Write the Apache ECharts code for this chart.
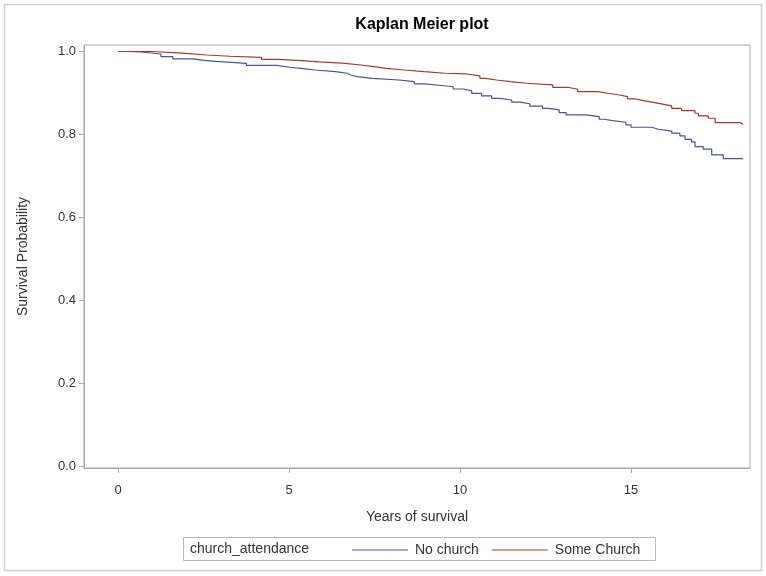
<!DOCTYPE html>
<html>
<head>
<meta charset="utf-8">
<script src="https://cdn.jsdelivr.net/npm/echarts@6/dist/echarts.min.js"></script>
<style>
html,body{margin:0;padding:0;background:#fff;}
#chart{width:766px;height:576px;}
</style>
</head>
<body>
<div id="chart"></div>
<script>
// Years of survival (start of each step) and survival probability from then on
var noChurchTimes = [0, 0.30, 0.66, 1.25, 1.60, 2.19, 2.53, 2.85, 3.31, 3.75, 4.63, 5.02, 5.41, 5.75, 6.36, 6.70, 6.80, 6.99, 7.43, 8.21, 8.66, 8.95, 9.46, 9.80, 10.10, 10.34, 10.63, 10.92, 11.17, 11.51, 11.75, 12.04, 12.41, 12.61, 12.90, 13.10, 13.68, 14.07, 14.22, 14.46, 14.85, 15.00, 15.60, 15.80, 16.19, 16.43, 16.58, 16.77, 16.87, 17.11, 17.36, 17.70, 18.28];
var noChurchSurv  = [1.0, 0.9988, 0.994, 0.9875, 0.982, 0.9788, 0.976, 0.974, 0.9716, 0.9667, 0.962, 0.9586, 0.9554, 0.9514, 0.9475, 0.9434, 0.9393, 0.9354, 0.9313, 0.9272, 0.9217, 0.918, 0.915, 0.9096, 0.905, 0.899, 0.8928, 0.887, 0.883, 0.8778, 0.874, 0.868, 0.863, 0.859, 0.8525, 0.847, 0.843, 0.8366, 0.8333, 0.8294, 0.823, 0.8173, 0.8125, 0.808, 0.803, 0.7964, 0.788, 0.782, 0.7706, 0.7643, 0.7506, 0.7417, 0.7417];

var someChurchTimes = [0, 1.00, 1.87, 2.60, 3.26, 4.19, 4.68, 5.37, 5.86, 6.56, 7.10, 7.54, 7.83, 8.37, 8.95, 9.56, 10.19, 10.58, 10.73, 11.07, 11.46, 11.95, 12.71, 13.15, 13.44, 14.03, 14.32, 14.66, 14.90, 15.15, 15.36, 15.65, 15.89, 16.19, 16.48, 16.87, 16.97, 17.26, 17.46, 18.19, 18.28];
var someChurchSurv  = [1.0, 0.996, 0.9916, 0.9885, 0.986, 0.981, 0.978, 0.975, 0.972, 0.9675, 0.9627, 0.9595, 0.9554, 0.9514, 0.9475, 0.9458, 0.941, 0.9354, 0.9313, 0.9272, 0.9234, 0.9193, 0.9137, 0.9089, 0.9031, 0.8993, 0.895, 0.891, 0.8855, 0.8815, 0.8773, 0.8735, 0.8687, 0.863, 0.8573, 0.851, 0.8446, 0.839, 0.8284, 0.824, 0.824];

var groupNames = ['No church', 'Some Church'];
var xTicks = [0, 5, 10, 15];
var yTicks = [0, 0.2, 0.4, 0.6, 0.8, 1.0];

function zip(a, b) { return a.map(function (v, i) { return [v, b[i]]; }); }

var chart = echarts.init(document.getElementById('chart'), null, {renderer: 'canvas'});
var axisGray = '#a9a9a9';
var txt = '#333333';
var fontFam = '"Liberation Sans", Arial, sans-serif';

chart.setOption({
  animation: false,
  backgroundColor: '#ffffff',
  title: {
    text: 'Kaplan Meier plot',
    left: 417, top: 12, textAlign: 'center',
    textStyle: {fontFamily: fontFam, fontSize: 16, fontWeight: 'bold', color: '#000'}
  },
  grid: {
    left: 84, top: 45, width: 666, height: 423,
    show: true, borderColor: axisGray, borderWidth: 1, backgroundColor: 'transparent'
  },
  xAxis: {
    type: 'value', min: -1.0, max: 18.48,
    name: 'Years of survival', nameLocation: 'middle', nameGap: 42,
    nameTextStyle: {fontFamily: fontFam, fontSize: 14, color: txt},
    axisLine: {show: true, onZero: false, lineStyle: {color: axisGray}},
    axisTick: {show: true, length: 5, customValues: xTicks, lineStyle: {color: axisGray}},
    axisLabel: {customValues: xTicks, margin: 16, fontFamily: fontFam, fontSize: 13, color: txt},
    splitLine: {show: false}
  },
  yAxis: {
    type: 'value', min: -0.0048, max: 1.0157,
    name: 'Survival Probability', nameLocation: 'middle', nameGap: 54,
    nameTextStyle: {fontFamily: fontFam, fontSize: 14, color: txt},
    axisLine: {show: true, onZero: false, lineStyle: {color: axisGray}},
    axisTick: {show: true, length: 5, customValues: yTicks, lineStyle: {color: axisGray}},
    axisLabel: {customValues: yTicks, margin: 8, fontFamily: fontFam, fontSize: 13, color: txt,
      formatter: function (v) { return v.toFixed(1); }},
    splitLine: {show: false}
  },
  legend: {
    left: 347, top: 538,
    icon: 'rect', itemWidth: 56, itemHeight: 1, itemGap: 13,
    textStyle: {fontFamily: fontFam, fontSize: 14, color: txt, padding: [0, 0, 0, 2]},
    data: groupNames
  },
  graphic: [
    {type: 'rect', shape: {x: 4.5, y: 4.5, width: 757, height: 566},
     style: {fill: 'none', stroke: '#cfcfcf', lineWidth: 1.5}, silent: true},
    {type: 'rect', shape: {x: 183.5, y: 537.5, width: 472, height: 23},
     style: {fill: 'none', stroke: '#b8b8b8', lineWidth: 1}, silent: true},
    {type: 'text', left: 190, top: 542,
     style: {text: 'church_attendance', font: '14px ' + fontFam, fill: txt}}
  ],
  series: [
    {name: groupNames[0], type: 'line', step: 'end', showSymbol: false, symbol: 'none',
     data: zip(noChurchTimes, noChurchSurv), lineStyle: {color: '#445694', width: 1.2},
     itemStyle: {color: '#445694'}},
    {name: groupNames[1], type: 'line', step: 'end', showSymbol: false, symbol: 'none',
     data: zip(someChurchTimes, someChurchSurv), lineStyle: {color: '#A23A2E', width: 1.2},
     itemStyle: {color: '#A23A2E'}}
  ]
});
</script>
</body>
</html>
